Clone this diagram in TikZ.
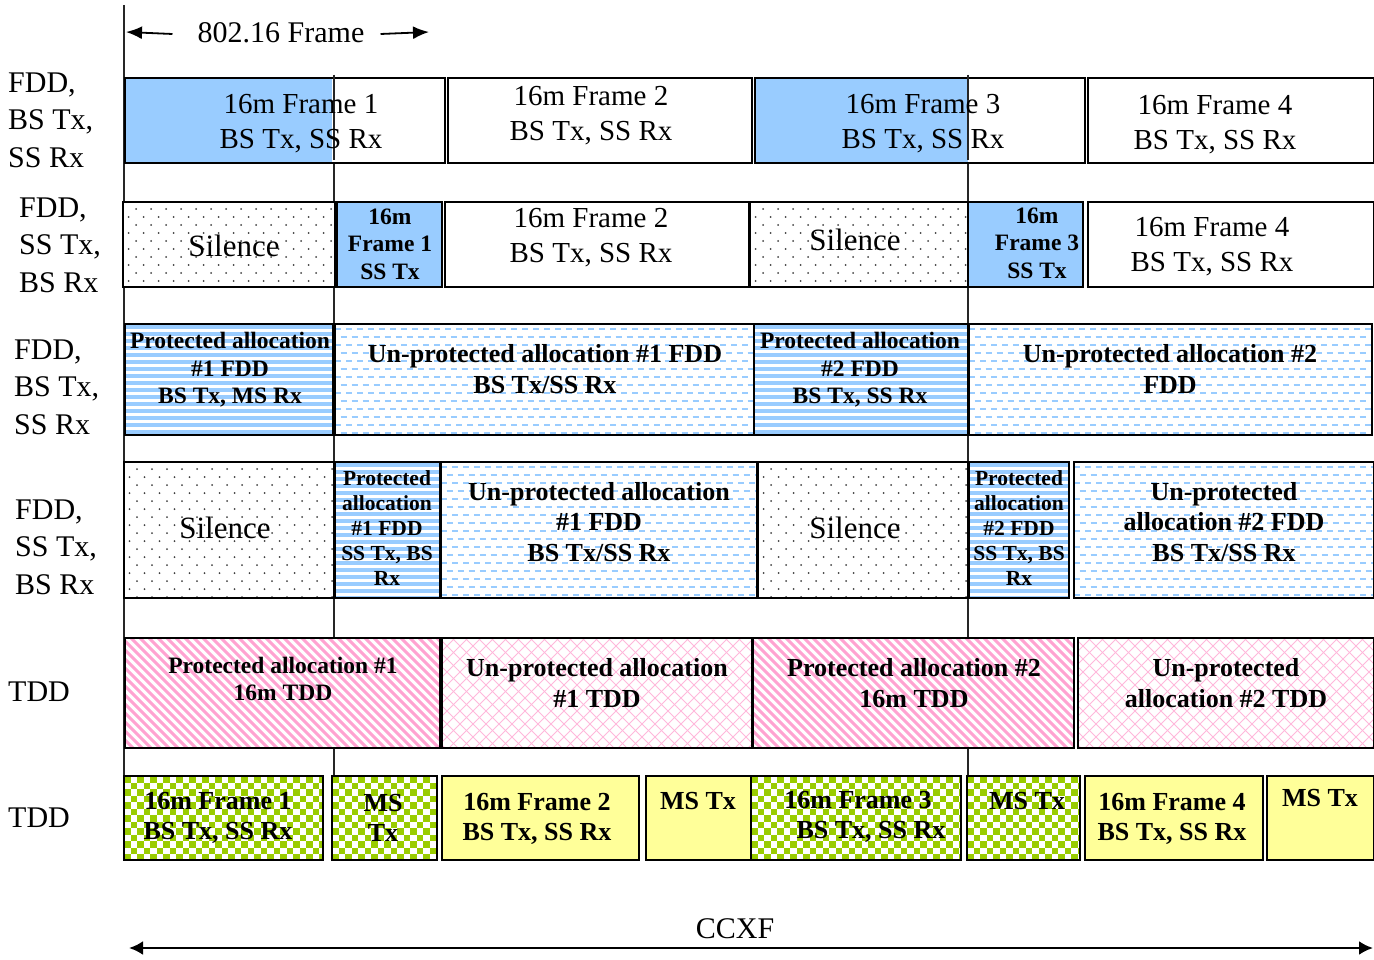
\documentclass[tikz,border=0pt]{standalone}
\usepackage{fontspec}
\setmainfont{Liberation Serif}
\usetikzlibrary{arrows.meta}

\definecolor{fillblue}{HTML}{99CCFF}
\definecolor{pinkline}{HTML}{FF99CC}
\definecolor{chkgreen}{HTML}{99CC00}
\definecolor{paleyellow}{HTML}{FFFF99}

\newcommand\fsreg{\fontsize{29}{35}\selectfont}
\newcommand\fsside{\fontsize{30}{37.5}\selectfont}
\newcommand\fssil{\fontsize{31}{36}\selectfont}
\newcommand\fsbold{\bfseries\fontsize{26}{30.5}\selectfont}
\newcommand\fsbmid{\bfseries\fontsize{23.5}{27.5}\selectfont}
\newcommand\fsbsmall{\bfseries\fontsize{21.5}{25.2}\selectfont}

% one block of the time line: name, x1, y1, x2, y2, extra style
\newcommand\blockcell[6]{%
  \node[blk,#6,minimum width={#4-#2},minimum height={#5-#3}] (#1)
    at ({(#2+#4)/2},{(#3+#5)/2}) {};}

\tikzset{
  blk/.style={draw=black, line width=1.8pt, inner sep=0pt, outer sep=0pt, fill=white},
  guide/.style={draw=black!85, line width=1.3pt},
  txt/.style={align=center, inner sep=0pt},
  side/.style={align=left, inner sep=0pt, anchor=west, font=\fsside},
  solidblue/.style={fill=fillblue},
  yellowbox/.style={fill=paleyellow},
  halfblue/.style={path picture={
      \fill[fillblue] (path picture bounding box.north west)
        rectangle ([xshift=#1]path picture bounding box.south west);}},
  hstripes/.style={path picture={
      \foreach \k in {0,...,22}{
        \fill[fillblue] ([yshift=-\k*7pt-1pt]path picture bounding box.north west)
          rectangle ([yshift=-\k*7pt-4.5pt]path picture bounding box.north east);}}},
  dashrows/.style={path picture={
      \foreach \k in {0,...,18}{
        \pgfmathsetmacro\ph{mod(\k,2)*5.5}
        \draw[fillblue, line width=1.6pt, dash pattern=on 6pt off 5pt, dash phase=\ph pt]
          ([yshift=-\k*8pt-5pt]path picture bounding box.north west)
          -- ([yshift=-\k*8pt-5pt]path picture bounding box.north east);}}},
  dotted field/.style={path picture={
      \foreach \j in {0,...,17}{
        \foreach \i in {0,...,15}{
          \fill[black!75] ([xshift={\i*15pt+mod(\j+1,2)*7.5pt+5.5pt}, yshift={-\j*8pt-7pt}]
            path picture bounding box.north west) circle (1pt);}}}},
  pinkdiag/.style={path picture={
      \foreach \k in {0,...,52}{
        \draw[pinkline!90, line width=2.9pt]
          ([xshift=\k*9pt-120pt]path picture bounding box.north west) -- ++(135pt,-135pt);}}},
  pinkcross/.style={path picture={
      \foreach \k in {0,...,36}{
        \draw[pinkline!70, line width=0.9pt]
          ([xshift=\k*13pt-120pt]path picture bounding box.north west) -- ++(135pt,-135pt);
        \draw[pinkline!70, line width=0.9pt]
          ([xshift=\k*13pt]path picture bounding box.north west) -- ++(-135pt,-135pt);}}},
  checker/.style={path picture={
      \foreach \j in {0,...,13}{
        \pgfmathtruncatemacro\off{mod(\j,2)}
        \foreach \i in {0,2,...,34}{
          \fill[chkgreen] ([xshift={(\i+\off)*6.5pt}, yshift={-\j*6.5pt}]
            path picture bounding box.north west) rectangle ++(6.5pt,-6.5pt);}}}},
  spanarrow/.style={line width=1.8pt,-{Latex[length=16pt,width=13pt]}},
}

\begin{document}
\begin{tikzpicture}[x=1pt,y=-1pt]
\useasboundingbox (0,0) rectangle (1374,960);

% ---- frame guide lines
\coordinate (gA1) at (124,5);   \coordinate (gA2) at (124,776);
\coordinate (gB1) at (334,75);  \coordinate (gB2) at (334,776);
\coordinate (gC1) at (968,75);  \coordinate (gC2) at (968,776);
\draw[guide] (gA1) -- (gA2);
\draw[guide] (gB1) -- (gB2);
\draw[guide] (gC1) -- (gC2);

% ---- row 1: FDD, BS Tx, SS Rx
\blockcell{r1a}{125}{78}{445}{163}{halfblue=207pt}
\blockcell{r1b}{448}{78}{752}{163}{}
\blockcell{r1c}{755}{78}{1085}{163}{halfblue=213pt}
\blockcell{r1d}{1088}{78}{1374}{163}{}
\draw[guide] (gB1) -- ([yshift=-85pt]gB1);
\draw[guide] (gC1) -- ([yshift=-85pt]gC1);
\node[txt,font=\fsreg] (r1at) at (301,124) {16m Frame 1\\BS Tx, SS Rx};
\node[txt,font=\fsreg] (r1bt) at (591,116) {16m Frame 2\\BS Tx, SS Rx};
\node[txt,font=\fsreg] (r1ct) at (923,124) {16m Frame 3\\BS Tx, SS Rx};
\node[txt,font=\fsreg] (r1dt) at (1215,125) {16m Frame 4\\BS Tx, SS Rx};

% ---- row 2: FDD, SS Tx, BS Rx
\blockcell{r2a}{123}{202}{335}{287}{dotted field}
\blockcell{r2b}{337}{202}{442}{287}{solidblue}
\blockcell{r2c}{445}{202}{749}{287}{}
\blockcell{r2d}{750}{202}{968}{287}{dotted field}
\blockcell{r2e}{968}{202}{1083}{287}{solidblue}
\blockcell{r2f}{1088}{202}{1374}{287}{}
\node[txt,font=\fssil] (r2at) at (234,246) {Silence};
\node[txt,font=\fsbmid] (r2bt) at (390,244) {16m\\Frame 1\\SS Tx};
\node[txt,font=\fsreg] (r2ct) at (591,238) {16m Frame 2\\BS Tx, SS Rx};
\node[txt,font=\fssil] (r2dt) at (855,240) {Silence};
\node[txt,font=\fsbmid] (r2et) at (1037,243) {16m\\Frame 3\\SS Tx};
\node[txt,font=\fsreg] (r2ft) at (1212,247) {16m Frame 4\\BS Tx, SS Rx};

% ---- row 3: FDD, BS Tx, SS Rx allocations
\blockcell{r3a}{125}{324}{333}{435}{hstripes}
\blockcell{r3b}{335}{324}{754}{435}{dashrows}
\blockcell{r3c}{754}{324}{968}{435}{hstripes}
\blockcell{r3d}{969}{324}{1372}{435}{dashrows}
\node[txt,font=\fsbmid] (r3at) at (230,370) {Protected allocation\\\#1 FDD\\BS Tx, MS Rx};
\node[txt,font=\fsbold] (r3bt) at (545,369) {Un-protected allocation \#1 FDD\\BS Tx/SS Rx};
\node[txt,font=\fsbmid] (r3ct) at (860,370) {Protected allocation\\\#2 FDD\\BS Tx, SS Rx};
\node[txt,font=\fsbold] (r3dt) at (1170,369) {Un-protected allocation \#2\\FDD};

% ---- row 4: FDD, SS Tx, BS Rx allocations
\blockcell{r4a}{124}{462}{334}{598}{dotted field}
\blockcell{r4b}{335}{462}{440}{598}{hstripes}
\blockcell{r4c}{441}{462}{757}{598}{dashrows}
\blockcell{r4d}{758}{462}{968}{598}{dotted field}
\blockcell{r4e}{969}{462}{1069}{598}{hstripes}
\blockcell{r4f}{1074}{462}{1374}{598}{dashrows}
\node[txt,font=\fssil] (r4at) at (225,528) {Silence};
\node[txt,font=\fsbsmall] (r4bt) at (387,528) {Protected\\allocation\\\#1 FDD\\SS Tx, BS\\Rx};
\node[txt,font=\fsbold] (r4ct) at (599,522) {Un-protected allocation\\\#1 FDD\\BS Tx/SS Rx};
\node[txt,font=\fssil] (r4dt) at (855,528) {Silence};
\node[txt,font=\fsbsmall] (r4et) at (1019,528) {Protected\\allocation\\\#2 FDD\\SS Tx, BS\\Rx};
\node[txt,font=\fsbold] (r4ft) at (1224,522) {Un-protected\\allocation \#2 FDD\\BS Tx/SS Rx};

% ---- row 5: TDD allocations
\blockcell{r5a}{125}{638}{440}{748}{pinkdiag}
\blockcell{r5b}{442}{638}{752}{748}{pinkcross}
\blockcell{r5c}{753}{638}{1074}{748}{pinkdiag}
\blockcell{r5d}{1078}{638}{1374}{748}{pinkcross}
\node[txt,font=\fsbmid] (r5at) at (283,679) {Protected allocation \#1\\16m TDD};
\node[txt,font=\fsbold] (r5bt) at (597,683) {Un-protected allocation\\\#1 TDD};
\node[txt,font=\fsbold] (r5ct) at (914,683) {Protected allocation \#2\\16m TDD};
\node[txt,font=\fsbold] (r5dt) at (1226,683) {Un-protected\\allocation \#2 TDD};

% ---- row 6: TDD frames
\blockcell{r6a}{124}{776}{323}{860}{checker}
\blockcell{r6b}{332}{776}{437}{860}{checker}
\blockcell{r6c}{442}{776}{639}{860}{yellowbox}
\blockcell{r6d}{646}{776}{751}{860}{yellowbox}
\blockcell{r6e}{751}{776}{961}{860}{checker}
\blockcell{r6f}{967}{776}{1080}{860}{checker}
\blockcell{r6g}{1085}{776}{1263}{860}{yellowbox}
\blockcell{r6h}{1267}{776}{1374}{860}{yellowbox}
\node[txt,font=\fsbold] (r6at) at (218,818) {16m Frame 1\\BS Tx, SS Rx};
\node[txt,font=\fsbold] (r6bt) at (383,818) {MS\\Tx};
\node[txt,font=\fsbold] (r6ct) at (537,819) {16m Frame 2\\BS Tx, SS Rx};
\node[txt,font=\fsbold] (r6dt) at (698,801) {MS Tx};
\node[txt,font=\fsbold] (r6et) at (858,817) {16m Frame 3\\\hspace*{26pt}BS Tx, SS Rx};
\node[txt,font=\fsbold] (r6ft) at (1027,801) {MS Tx};
\node[txt,font=\fsbold] (r6gt) at (1172,819) {16m Frame 4\\BS Tx, SS Rx};
\node[txt,font=\fsbold] (r6ht) at (1320,798) {MS Tx};

% ---- row labels
\node[side] (s1) at (8,120) {FDD,\\BS Tx,\\SS Rx};
\node[side] (s2) at (19,245) {FDD,\\SS Tx,\\BS Rx};
\node[side] (s3) at (14,387) {FDD,\\BS Tx,\\SS Rx};
\node[side] (s4) at (15,547) {FDD,\\SS Tx,\\BS Rx};
\node[side] (s5) at (8,692) {TDD};
\node[side] (s6) at (8,818) {TDD};

% ---- 802.16 frame span
\node[txt,font=\fsside] (fr) at (281,33) {802.16 Frame};
\coordinate (frL) at (126,32);
\coordinate (frR) at (429,32);
\draw[spanarrow] (fr.west) ++(-25pt,-1pt) -- (frL);
\draw[spanarrow] (fr.east) ++(16pt,-1pt) -- (frR);

% ---- CCXF span
\node[txt,font=\fsside] (cc) at (735,929) {CCXF};
\coordinate (ccL) at (129,948);
\coordinate (ccR) at (1373,948);
\draw[line width=2.6pt,{Latex[length=14pt,width=14pt]}-{Latex[length=14pt,width=14pt]}] (ccL) -- (ccR);
\end{tikzpicture}
\end{document}
